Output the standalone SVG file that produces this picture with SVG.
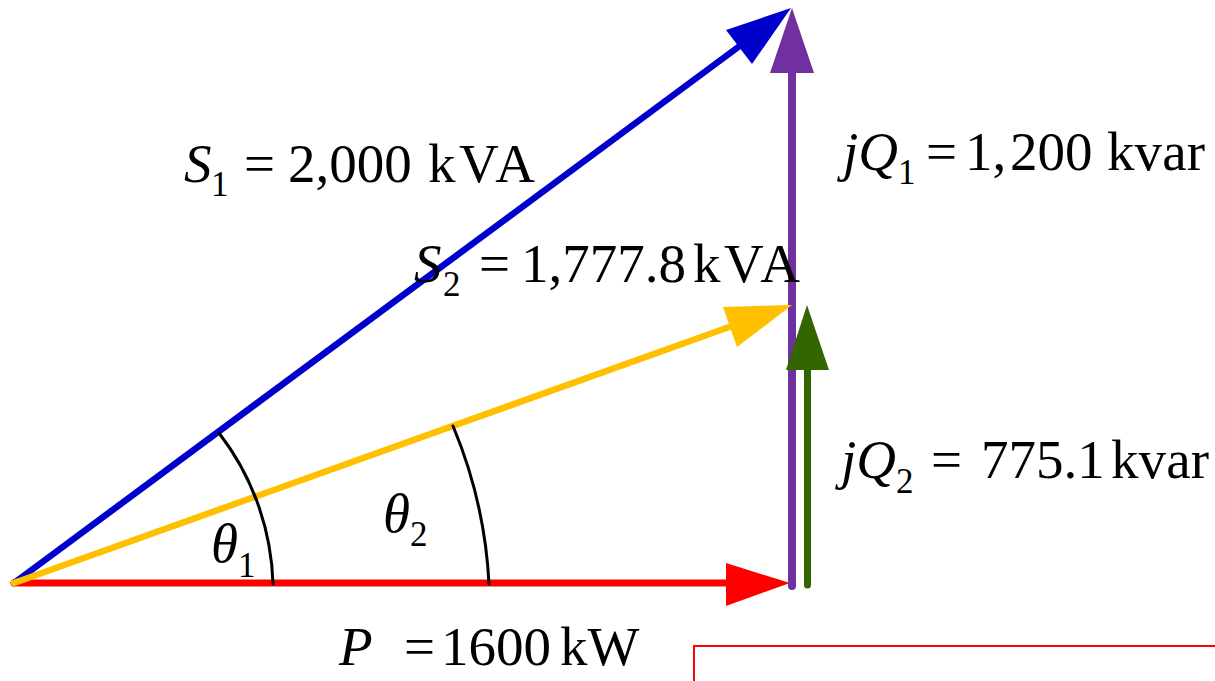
<svg xmlns="http://www.w3.org/2000/svg" width="1215" height="681" viewBox="0 0 1215 681">
<style>
text{font-family:"Liberation Serif","Times New Roman",serif;font-size:55px;fill:#000}
.i{font-style:italic}
.sub{font-size:35px}
.arc{fill:none;stroke:#000;stroke-width:3;stroke-linecap:round}
.ln{fill:none;stroke-linecap:round}
</style>
<rect width="1215" height="681" fill="#fff"/>
<g id="connectors">
  <g id="P">
    <line class="ln" x1="14" y1="583" x2="730" y2="583" stroke="#FF0000" stroke-width="7"/>
    <polygon points="726,563 790,583 726,606" fill="#FF0000"/>
  </g>
  <g id="Q1">
    <line class="ln" x1="792" y1="586" x2="792" y2="70" stroke="#7030A0" stroke-width="8"/>
    <polygon points="770,73 792,8 814,73" fill="#7030A0"/>
  </g>
  <g id="Q2">
    <line class="ln" x1="807.5" y1="585" x2="807.5" y2="367" stroke="#336600" stroke-width="7"/>
    <polygon points="786,370 807,305 829,370" fill="#336600"/>
  </g>
  <g id="S1">
    <line class="ln" x1="14" y1="583" x2="741" y2="45" stroke="#0000CC" stroke-width="6.5"/>
    <polygon points="726,30 791,8 752,64" fill="#0000CC"/>
  </g>
  <g id="S2">
    <line class="ln" x1="14" y1="583" x2="732" y2="326" stroke="#FFC000" stroke-width="6.5"/>
    <polygon points="723,307 792,305 737,347" fill="#FFC000"/>
  </g>
  <path id="arc1" class="arc" d="M219,433 A 259 259 0 0 1 273,584"/>
  <path id="arc2" class="arc" d="M453,426 A 470 470 0 0 1 489,584"/>
</g>
<g id="label-S1">
  <text x="184" y="182"><tspan class="i">S</tspan><tspan class="sub" x="211" y="196">1</tspan><tspan x="244" y="182">=</tspan><tspan x="288">2,000</tspan><tspan x="428" textLength="107" lengthAdjust="spacing">kVA</tspan></text>
</g>
<g id="label-S2">
  <text x="414" y="282"><tspan class="i">S</tspan><tspan class="sub" x="443" y="296">2</tspan><tspan x="479" y="282">=</tspan><tspan x="521">1,777.8</tspan><tspan x="693" textLength="107" lengthAdjust="spacing">kVA</tspan></text>
</g>
<g id="label-Q1">
  <text x="843" y="170"><tspan class="i">jQ</tspan><tspan class="sub" x="898" y="184">1</tspan><tspan x="926" y="170">=</tspan><tspan x="965">1,</tspan><tspan x="1010">200</tspan><tspan x="1107" textLength="98" lengthAdjust="spacing">kvar</tspan></text>
</g>
<g id="label-Q2">
  <text x="841" y="478"><tspan class="i">jQ</tspan><tspan class="sub" x="896" y="493">2</tspan><tspan x="931" y="478">=</tspan><tspan x="981">775.1</tspan><tspan x="1111" textLength="98" lengthAdjust="spacing">kvar</tspan></text>
</g>
<g id="label-P">
  <text x="339" y="665"><tspan class="i">P</tspan><tspan x="404">=</tspan><tspan x="441">1600</tspan><tspan x="560">kW</tspan></text>
</g>
<g id="label-theta1">
  <text x="211" y="562"><tspan class="i">θ</tspan><tspan class="sub" x="238" y="577">1</tspan></text>
</g>
<g id="label-theta2">
  <text x="383" y="532"><tspan class="i">θ</tspan><tspan class="sub" x="410" y="546">2</tspan></text>
</g>
<g id="box">
  <rect x="694" y="646" width="540" height="60" fill="none" stroke="#FF0000" stroke-width="2"/>
</g>
</svg>
